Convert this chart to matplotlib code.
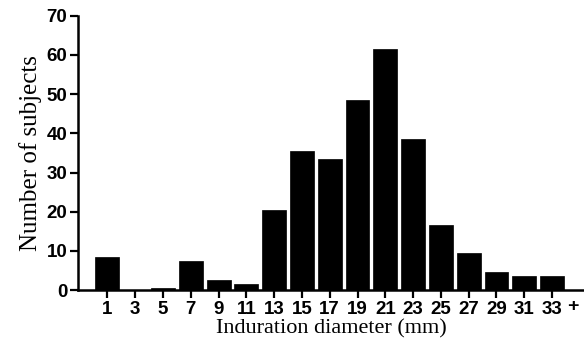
import matplotlib
matplotlib.use("Agg")
import matplotlib.pyplot as plt

plt.rcParams["font.family"] = "Liberation Sans"
plt.rcParams["font.weight"] = "bold"

# Induration diameter bins (mm) and number of subjects
diameters = [1, 3, 5, 7, 9, 11, 13, 15, 17, 19, 21, 23, 25, 27, 29, 31, 33]
counts = [8.5, 0, 0.5, 7.5, 2.5, 1.5, 20.5, 35.5, 33.5, 48.5, 61.5, 38.5,
          16.5, 9.5, 4.5, 3.5, 3.5]
tick_labels = [str(d) for d in diameters]

fig = plt.figure(figsize=(5.84, 3.56), dpi=100)
ax = fig.add_axes([0.134, 0.185, 0.866, 0.771])

ax.bar(diameters, counts, width=1.72, color="black", edgecolor="black",
       linewidth=0.5, zorder=3)

ax.set_xlim(-1.1, 35.3)
ax.set_ylim(0, 70)
ax.set_yticks(range(0, 71, 10))
ax.set_xticks(diameters, tick_labels)

ax.tick_params(axis="both", direction="out", length=6, width=1.6, pad=2,
               colors="black", labelsize=13.5)

# trailing "+" after the last bin label
ax.text(34.5, -2.0, "+", ha="center", va="top", clip_on=False,
        fontweight="bold", fontsize=14)

for side in ["top", "right"]:
    ax.spines[side].set_visible(False)
for side in ["left", "bottom"]:
    ax.spines[side].set_linewidth(1.8)

ax.set_xlabel("Induration diameter (mm)", labelpad=1,
              family="Liberation Serif", fontweight="normal", fontsize=16)
ax.set_ylabel("Number of subjects", labelpad=3,
              family="Liberation Serif", fontweight="normal", fontsize=18)

fig.savefig("out.png", dpi=100)
